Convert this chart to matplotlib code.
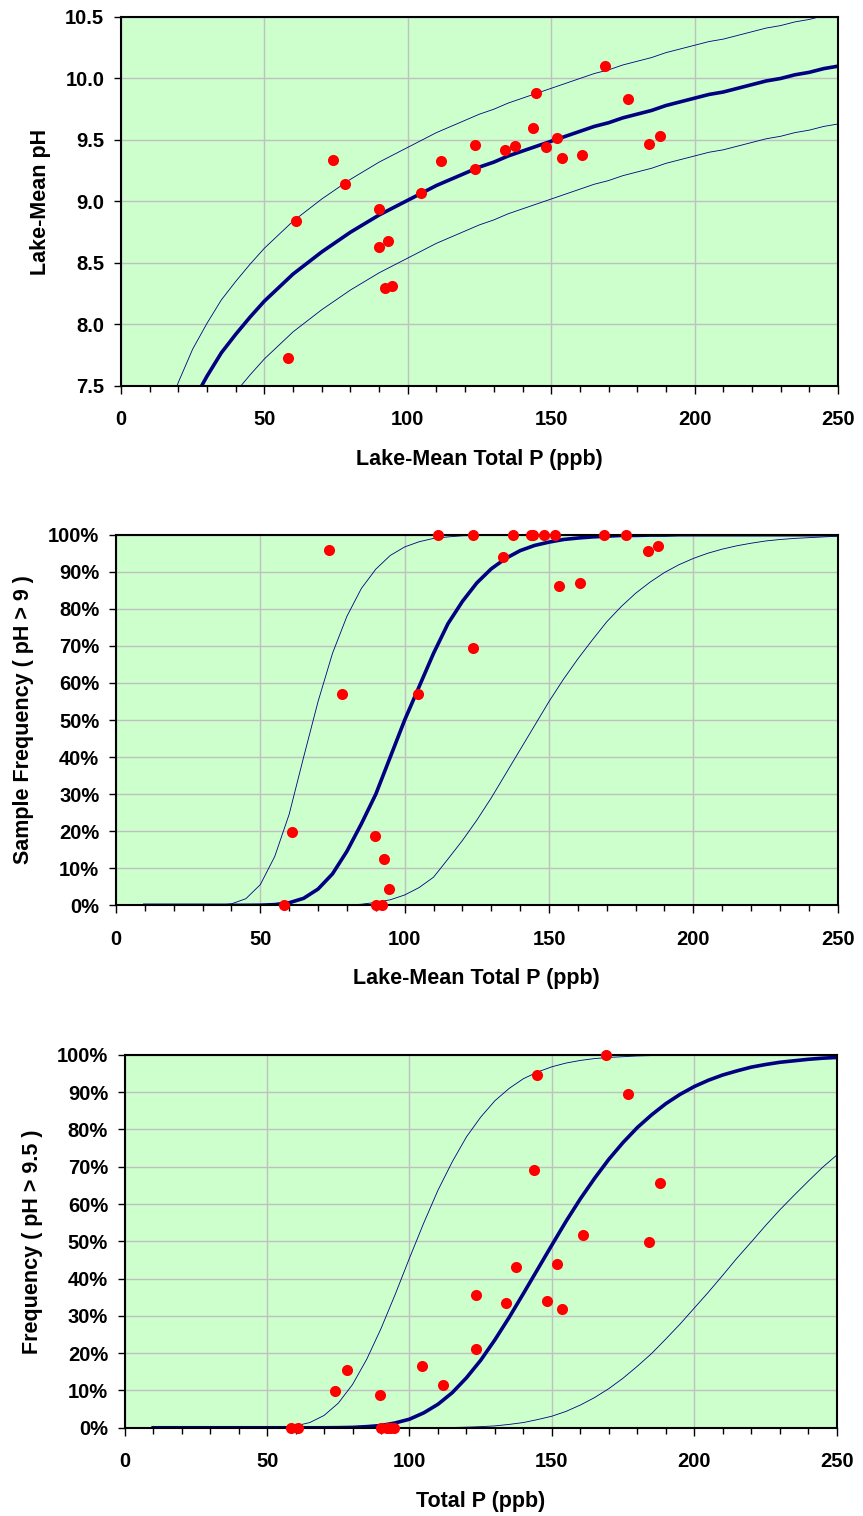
import matplotlib
matplotlib.use("Agg")
import matplotlib.pyplot as plt
from matplotlib.ticker import MultipleLocator, PercentFormatter, FormatStrFormatter

plt.rcParams["font.family"] = ["Liberation Sans", "DejaVu Sans"]
plt.rcParams["font.weight"] = "bold"

# observed lakes: total P (ppb), mean pH, frequency of pH > 9 and pH > 9.5
total_p = [58.3, 61.0, 73.8, 78.2, 89.8, 90.0, 92.2, 93.0, 94.4, 104.5, 111.7, 123.5, 123.5,
           133.9, 137.4, 143.7, 144.6, 148.3, 151.9, 153.6, 160.9, 168.9, 176.7, 184.2, 187.8]
mean_ph = [7.73, 8.84, 9.34, 9.14, 8.94, 8.63, 8.30, 8.68, 8.31, 9.07, 9.33, 9.46, 9.26,
           9.42, 9.45, 9.60, 9.88, 9.44, 9.52, 9.35, 9.38, 10.10, 9.83, 9.47, 9.53]
freq_ph9 = [0.0, 0.198, 0.958, 0.569, 0.188, 0.0, 0.0, 0.125, 0.045, 0.569, 1.0, 1.0, 0.695,
            0.939, 1.0, 1.0, 1.0, 1.0, 1.0, 0.861, 0.870, 1.0, 1.0, 0.955, 0.970]
freq_ph95 = [0.0, 0.0, 0.099, 0.154, 0.089, 0.0, 0.0, 0.0, 0.0, 0.166, 0.115, 0.210, 0.357,
             0.335, 0.432, 0.691, 0.947, 0.340, 0.439, 0.319, 0.518, 1.0, 0.896, 0.498, 0.657]

p_grid = list(range(10, 255, 5))

ph_fit = [6.28, 6.76, 7.10, 7.37, 7.58, 7.77, 7.92, 8.06, 8.19, 8.30, 8.41, 8.50, 8.59, 8.67,
          8.75, 8.82, 8.89, 8.95, 9.01, 9.07, 9.13, 9.18, 9.23, 9.28, 9.32, 9.37, 9.41, 9.45,
          9.49, 9.53, 9.57, 9.61, 9.64, 9.68, 9.71, 9.74, 9.78, 9.81, 9.84, 9.87, 9.89, 9.92,
          9.95, 9.98, 10.00, 10.03, 10.05, 10.08, 10.10]
ph_hi = [6.71, 7.19, 7.53, 7.80, 8.01, 8.20, 8.35, 8.49, 8.62, 8.73, 8.84, 8.93, 9.02, 9.10,
         9.18, 9.25, 9.32, 9.38, 9.44, 9.50, 9.56, 9.61, 9.66, 9.71, 9.75, 9.80, 9.84, 9.88,
         9.92, 9.96, 10.00, 10.04, 10.07, 10.11, 10.14, 10.17, 10.21, 10.24, 10.27, 10.30,
         10.32, 10.35, 10.38, 10.41, 10.43, 10.46, 10.48, 10.51, 10.53]
ph_lo = [5.81, 6.29, 6.63, 6.90, 7.11, 7.30, 7.45, 7.59, 7.72, 7.83, 7.94, 8.03, 8.12, 8.20,
         8.28, 8.35, 8.42, 8.48, 8.54, 8.60, 8.66, 8.71, 8.76, 8.81, 8.85, 8.90, 8.94, 8.98,
         9.02, 9.06, 9.10, 9.14, 9.17, 9.21, 9.24, 9.27, 9.31, 9.34, 9.37, 9.40, 9.42, 9.45,
         9.48, 9.51, 9.53, 9.56, 9.58, 9.61, 9.63]

f9_fit = [0, 0, 0, 0, 0, 0, 0, 0.0001, 0.0004, 0.002, 0.007, 0.019, 0.044, 0.085, 0.146,
          0.22, 0.30, 0.40, 0.50, 0.59, 0.68, 0.76, 0.82, 0.87, 0.908, 0.936, 0.957, 0.971,
          0.980, 0.987, 0.991, 0.994, 0.996, 0.998, 0.998, 0.999, 0.999,
          1, 1, 1, 1, 1, 1, 1, 1, 1, 1, 1, 1]
f9_hi = [0, 0, 0, 0, 0, 0.0004, 0.004, 0.018, 0.056, 0.132, 0.246, 0.40, 0.55, 0.68, 0.78,
         0.855, 0.907, 0.944, 0.967, 0.981, 0.990, 0.994, 0.997, 0.998, 0.999,
         1, 1, 1, 1, 1, 1, 1, 1, 1, 1, 1, 1, 1, 1, 1, 1, 1, 1, 1, 1, 1, 1, 1, 1]
f9_lo = [0, 0, 0, 0, 0, 0, 0, 0, 0, 0, 0, 0, 0, 0.0004, 0.001, 0.003, 0.008, 0.015, 0.028,
         0.048, 0.076, 0.125, 0.175, 0.23, 0.29, 0.355, 0.42, 0.485, 0.55, 0.61, 0.665,
         0.716, 0.765, 0.806, 0.842, 0.872, 0.898, 0.919, 0.936, 0.950, 0.961, 0.970, 0.977,
         0.983, 0.987, 0.990, 0.992, 0.994, 0.996]

f95_fit = [0, 0, 0, 0, 0, 0, 0, 0, 0, 0, 0, 0, 0, 0.0003, 0.001, 0.003, 0.006, 0.013, 0.023,
           0.040, 0.063, 0.094, 0.134, 0.181, 0.236, 0.296, 0.360, 0.425, 0.490, 0.554, 0.614,
           0.669, 0.720, 0.765, 0.805, 0.839, 0.869, 0.894, 0.915, 0.932, 0.946, 0.957, 0.967,
           0.974, 0.980, 0.984, 0.988, 0.991, 0.993]
f95_hi = [0, 0, 0, 0, 0, 0, 0, 0, 0.0003, 0.001, 0.005, 0.014, 0.033, 0.066, 0.116, 0.184,
          0.266, 0.358, 0.455, 0.549, 0.637, 0.713, 0.780, 0.833, 0.877, 0.910, 0.936, 0.954,
          0.968, 0.978, 0.985, 0.990, 0.993, 0.995, 0.997, 0.998, 0.999,
          1, 1, 1, 1, 1, 1, 1, 1, 1, 1, 1, 1]
f95_lo = [0, 0, 0, 0, 0, 0, 0, 0, 0, 0, 0, 0, 0, 0, 0, 0, 0, 0, 0.0001, 0.0002, 0.0004,
          0.0008, 0.0016, 0.003, 0.005, 0.009, 0.014, 0.022, 0.031, 0.044, 0.061, 0.081, 0.105,
          0.133, 0.165, 0.199, 0.238, 0.278, 0.321, 0.364, 0.409, 0.455, 0.498, 0.542, 0.584,
          0.623, 0.661, 0.698, 0.731]

NAVY = "#000080"
GREEN = "#CCFFCC"
GRID = "#C0C0C0"


def style_axes(ax, xlabel, ylabel):
    ax.set_facecolor(GREEN)
    ax.set_xlim(0, 250)
    ax.xaxis.set_major_locator(MultipleLocator(50))
    ax.xaxis.set_minor_locator(MultipleLocator(10))
    ax.grid(True, which="major", color=GRID, linewidth=1.0)
    ax.set_axisbelow(True)
    for sp in ax.spines.values():
        sp.set_color("black")
        sp.set_linewidth(1.5)
    ax.tick_params(axis="x", which="major", direction="out", length=5.5, width=1,
                   labelsize=14.5, pad=12)
    ax.tick_params(axis="x", which="minor", direction="out", length=4, width=1)
    ax.tick_params(axis="y", which="major", direction="out", length=5, width=1,
                   labelsize=14.5, pad=7)
    ax.set_xlabel(xlabel, fontsize=15.5, fontweight="bold", labelpad=14)
    ax.set_ylabel(ylabel, fontsize=15.5, fontweight="bold", labelpad=10)


def draw_panel(ax, y_obs, lo, fit, hi):
    ax.plot(p_grid, lo, color=NAVY, linewidth=0.6)
    ax.plot(p_grid, hi, color=NAVY, linewidth=0.6)
    ax.plot(p_grid, fit, color=NAVY, linewidth=2.6)
    ax.plot(total_p, y_obs, "o", color="#FF0000", markersize=8, markeredgewidth=0,
            clip_on=False, zorder=5)


fig = plt.figure(figsize=(8.63, 15.16), dpi=100)

ax1 = fig.add_axes([0.1402, 0.7454, 0.8308, 0.2434])
draw_panel(ax1, mean_ph, ph_lo, ph_fit, ph_hi)
ax1.set_ylim(7.5, 10.5)
ax1.yaxis.set_major_locator(MultipleLocator(0.5))
ax1.yaxis.set_major_formatter(FormatStrFormatter("%.1f"))
style_axes(ax1, "Lake-Mean Total P (ppb)", "Lake-Mean pH")

ax2 = fig.add_axes([0.1344, 0.4028, 0.8363, 0.2445])
draw_panel(ax2, freq_ph9, f9_lo, f9_fit, f9_hi)
ax2.set_ylim(0, 1)
ax2.yaxis.set_major_locator(MultipleLocator(0.1))
ax2.yaxis.set_major_formatter(PercentFormatter(xmax=1, decimals=0))
style_axes(ax2, "Lake-Mean Total P (ppb)", "Sample Frequency ( pH > 9 )")

ax3 = fig.add_axes([0.1445, 0.0582, 0.8250, 0.2460])
draw_panel(ax3, freq_ph95, f95_lo, f95_fit, f95_hi)
ax3.set_ylim(0, 1)
ax3.yaxis.set_major_locator(MultipleLocator(0.1))
ax3.yaxis.set_major_formatter(PercentFormatter(xmax=1, decimals=0))
style_axes(ax3, "Total P (ppb)", "Frequency ( pH > 9.5 )")

fig.savefig("out.png", dpi=100, facecolor="white")
